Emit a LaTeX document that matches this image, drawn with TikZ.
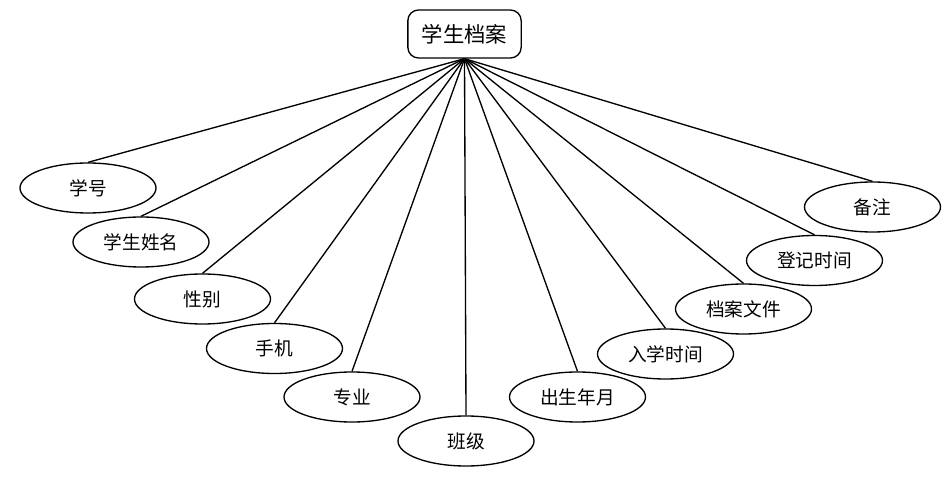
\documentclass[tikz,border=0pt]{standalone}
\usepackage{fontspec}
\newfontfamily\cjk{Noto Sans CJK SC}
\usetikzlibrary{shapes.geometric}
\tikzset{every picture/.style={line width=1pt}}
\tikzset{attr/.style={draw, ellipse, minimum width=102pt, minimum height=37.5pt, inner sep=0pt, font=\cjk\fontsize{14pt}{16pt}\selectfont}}
\tikzset{entity/.style={draw, rounded corners=8pt, minimum width=85pt, minimum height=36pt, inner sep=0pt, font=\cjk\fontsize{16pt}{18pt}\selectfont}}

\begin{document}
\begin{tikzpicture}[x=0.75pt,y=0.75pt,yscale=-1,xscale=1]
\useasboundingbox (0,0) rectangle (946,484);

% Entity
\draw (464.5,34) node [entity] (dangan) {学生档案};

% Attributes
\draw (88,188) node [attr] (xuehao) {学号};
\draw (141,242) node [attr] (xingming) {学生姓名};
\draw (202.5,299) node [attr] (xingbie) {性别};
\draw (274.5,348.5) node [attr] (shouji) {手机};
\draw (352,397) node [attr] (zhuanye) {专业};
\draw (466,441) node [attr] (banji) {班级};
\draw (577.5,397) node [attr] (chusheng) {出生年月};
\draw (665.5,354) node [attr] (ruxue) {入学时间};
\draw (743.5,309) node [attr] (wenjian) {档案文件};
\draw (814.5,260.5) node [attr] (dengji) {登记时间};
\draw (872.5,207) node [attr] (beizhu) {备注};

% Connectors
\foreach \n in {xuehao,xingming,xingbie,shouji,zhuanye,banji,chusheng,ruxue,wenjian,dengji,beizhu}
  \draw (dangan.south) -- (\n.north) ;

\end{tikzpicture}
\end{document}
